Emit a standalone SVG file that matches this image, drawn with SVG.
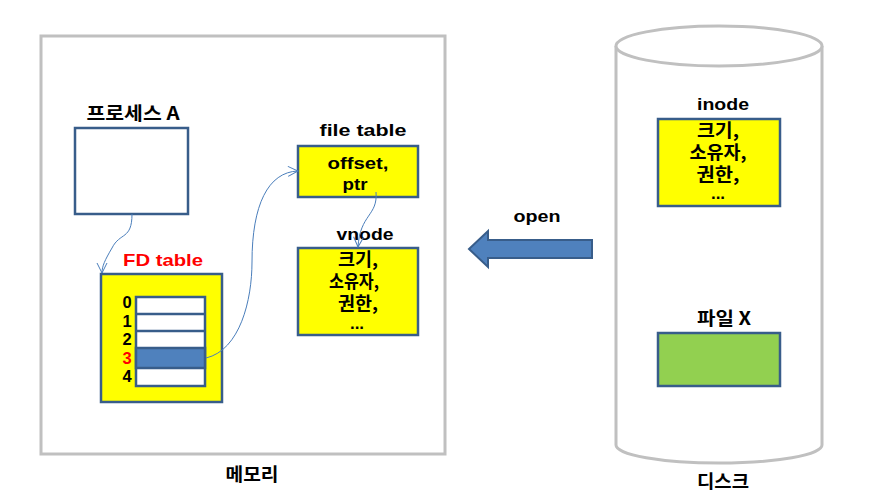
<svg xmlns="http://www.w3.org/2000/svg" width="871" height="504" viewBox="0 0 871 504">
<style>
text{font-family:"Liberation Sans","Noto Sans CJK KR",Arial,sans-serif;font-weight:bold;font-size:17px;text-anchor:middle;fill:#000}
.k{font-family:"Noto Sans CJK KR","Liberation Sans",sans-serif;font-size:18px}
.d{font-size:16.5px}
.box{stroke:#385D8A;stroke-width:2.5}
.y{fill:#FFFF00}
.con{fill:none;stroke:#4A7EBB;stroke-width:1}
</style>
<defs>
<marker id="oa" viewBox="0 0 12 12" refX="11" refY="6" markerWidth="12" markerHeight="12" markerUnits="userSpaceOnUse" orient="auto">
<path d="M1,1 L11,6 L1,11" fill="none" stroke="#4A7EBB" stroke-width="1"/>
</marker>
</defs>
<g id="memory">
<rect x="41" y="36" width="404" height="418" fill="#fff" stroke="#C0C0C0" stroke-width="3"/>
<text class="k" x="252" y="481" textLength="53" lengthAdjust="spacingAndGlyphs">메모리</text>
</g>
<g id="disk">
<path d="M616,46 L616,445 A103,18 0 0 0 822,445 L822,46" fill="#fff" stroke="#C0C0C0" stroke-width="3"/>
<ellipse cx="719" cy="46" rx="103" ry="20" fill="#fff" stroke="#C0C0C0" stroke-width="3"/>
<text class="k" x="723" y="488" textLength="52" lengthAdjust="spacingAndGlyphs">디스크</text>
</g>
<g id="process">
<text class="k" x="133" y="120" textLength="93" lengthAdjust="spacingAndGlyphs">프로세스 A</text>
<rect class="box" x="75" y="128" width="113" height="86" fill="#fff"/>
</g>
<g id="fdtable">
<text x="163" y="266" style="fill:#FF0000" textLength="80" lengthAdjust="spacingAndGlyphs">FD table</text>
<rect class="box y" x="101" y="274" width="121" height="128"/>
<rect x="136" y="297" width="69" height="89" fill="#fff" stroke="#385D8A" stroke-width="2.5"/>
<line x1="136" y1="314" x2="205" y2="314" stroke="#385D8A" stroke-width="2.5"/>
<line x1="136" y1="331" x2="205" y2="331" stroke="#385D8A" stroke-width="2.5"/>
<rect x="136" y="348" width="69" height="20" fill="#4F81BD" stroke="#385D8A" stroke-width="2.5"/>
<text class="d" x="127" y="308">0</text>
<text class="d" x="127" y="327">1</text>
<text class="d" x="127" y="345">2</text>
<text class="d" x="127" y="364" style="fill:#FF0000">3</text>
<text class="d" x="127" y="382">4</text>
</g>
<g id="filetable">
<text x="363" y="136" textLength="87" lengthAdjust="spacingAndGlyphs">file table</text>
<rect class="box y" x="298" y="146" width="120" height="51"/>
<text x="358" y="169" textLength="61" lengthAdjust="spacingAndGlyphs">offset,</text>
<text x="355" y="190" textLength="25" lengthAdjust="spacingAndGlyphs">ptr</text>
</g>
<g id="vnode">
<text x="365" y="240" textLength="57" lengthAdjust="spacingAndGlyphs">vnode</text>
<rect class="box y" x="298" y="248" width="120" height="87"/>
<text class="k"><tspan x="358" y="266" textLength="40" lengthAdjust="spacingAndGlyphs">크기,</tspan><tspan x="354" y="288" textLength="50" lengthAdjust="spacingAndGlyphs">소유자,</tspan><tspan x="358" y="310" textLength="40" lengthAdjust="spacingAndGlyphs">권한,</tspan></text>
<text x="357" y="329">...</text>
</g>
<g id="inode">
<text x="723" y="110" textLength="52" lengthAdjust="spacingAndGlyphs">inode</text>
<rect class="box y" x="658" y="119" width="122" height="87"/>
<text class="k"><tspan x="718" y="137" textLength="42" lengthAdjust="spacingAndGlyphs">크기,</tspan><tspan x="718" y="159" textLength="57" lengthAdjust="spacingAndGlyphs">소유자,</tspan><tspan x="718" y="181" textLength="43" lengthAdjust="spacingAndGlyphs">권한,</tspan></text>
<text x="718" y="199">...</text>
</g>
<g id="filex">
<text class="k" x="724" y="325" textLength="54" lengthAdjust="spacingAndGlyphs">파일 X</text>
<rect class="box" x="658" y="333" width="122" height="53" fill="#92D050"/>
</g>
<g id="open">
<text x="537" y="222" textLength="47" lengthAdjust="spacingAndGlyphs">open</text>
<path d="M592,240 L488,240 L488,231 L469,249 L488,267 L488,258 L592,258 Z" fill="#4F81BD" stroke="#385D8A" stroke-width="2"/>
</g>
<g id="connectors">
<path class="con" d="M132,214 C132,240 120,232 112,248 C105,260 102,266 102,273" marker-end="url(#oa)"/>
<path class="con" d="M206,358 C240,350 252,300 252,262 C252,205 268,172 298,171" marker-end="url(#oa)"/>
<path class="con" d="M376,192 C378,216 360,214 358,247" marker-end="url(#oa)"/>
</g>
</svg>
